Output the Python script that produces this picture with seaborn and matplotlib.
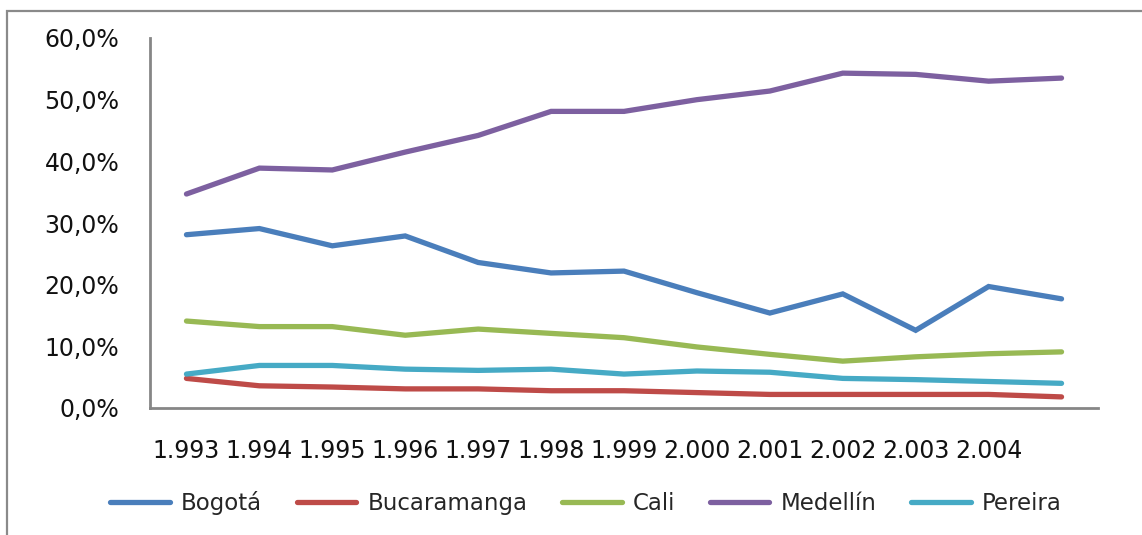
import matplotlib
matplotlib.use("Agg")
import matplotlib.pyplot as plt
from matplotlib.patches import Rectangle
from matplotlib.lines import Line2D
import seaborn as sns
import pandas as pd

years = [1993, 1994, 1995, 1996, 1997, 1998, 1999, 2000, 2001, 2002, 2003, 2004, 2005]
x_tick_labels = ["1.993", "1.994", "1.995", "1.996", "1.997", "1.998", "1.999",
                 "2.000", "2.001", "2.002", "2.003", "2.004"]
cities = ["Bogotá", "Bucaramanga", "Cali", "Medellín", "Pereira"]

bogota = [28.1, 29.1, 26.3, 27.9, 23.6, 21.9, 22.2, 18.7, 15.4, 18.5, 12.6, 19.7, 17.7]
bucaramanga = [4.8, 3.6, 3.4, 3.1, 3.1, 2.8, 2.8, 2.5, 2.2, 2.2, 2.2, 2.2, 1.8]
cali = [14.1, 13.2, 13.2, 11.8, 12.8, 12.1, 11.4, 9.9, 8.7, 7.6, 8.3, 8.8, 9.1]
medellin = [34.7, 38.9, 38.6, 41.5, 44.2, 48.1, 48.1, 50.0, 51.4, 54.3, 54.1, 53.0, 53.5]
pereira = [5.5, 6.9, 6.9, 6.3, 6.1, 6.3, 5.5, 6.0, 5.8, 4.8, 4.6, 4.3, 4.0]

y_ticks = [0, 10, 20, 30, 40, 50, 60]
colors = ["#4A7EBB", "#BE4B48", "#98B954", "#7D60A0", "#46AAC5"]

series = [bogota, bucaramanga, cali, medellin, pereira]
rows = []
for city, vals in zip(cities, series):
    for i, v in enumerate(vals):
        rows.append({"idx": i, "year": years[i], "value": v, "city": city})
df = pd.DataFrame(rows)

sns.set_theme(style="white")
plt.rcParams["font.family"] = ["DejaVu Sans"]

fig = plt.figure(figsize=(11.42, 5.35), dpi=100)
ax = fig.add_axes([150 / 1142, 1 - 408 / 535, (1098 - 150) / 1142, (408 - 38) / 535])

sns.lineplot(data=df, x="idx", y="value", hue="city", hue_order=cities,
             palette=colors, linewidth=3.8, ax=ax, legend=False,
             solid_capstyle="round", solid_joinstyle="miter")

ax.set_xlim(-0.5, len(years) - 0.5)
ax.set_ylim(0, 60)
ax.set_yticks(y_ticks)
ax.set_yticklabels([f"{v:.1f}".replace(".", ",") + "%" for v in y_ticks])
ax.set_xticks(range(len(x_tick_labels)))
ax.set_xticklabels(x_tick_labels)
ax.tick_params(axis="y", length=0, pad=22, labelsize=17, labelcolor="#111111")
ax.tick_params(axis="x", length=0, pad=22, labelsize=17, labelcolor="#111111")
ax.set_xlabel("")
ax.set_ylabel("")
for s in ["top", "right"]:
    ax.spines[s].set_visible(False)
for s in ["left", "bottom"]:
    ax.spines[s].set_color("#868686")
    ax.spines[s].set_linewidth(2)
ax.grid(False)

# chart border
fig.patches.append(Rectangle((7 / 1142, -0.2), 1.2, 1.2 - 11 / 535,
                             transform=fig.transFigure, fill=False,
                             edgecolor="#8a8a8a", linewidth=1.6))

handles = [Line2D([0], [0], color=c, linewidth=3.8) for c in colors]
fig.legend(handles, cities, loc="center", ncol=5,
           bbox_to_anchor=(586 / 1142, 1 - 503 / 535), frameon=False,
           fontsize=16.5, handlelength=2.6, handletextpad=0.5, columnspacing=1.5)

fig.savefig("out.png", dpi=100)
